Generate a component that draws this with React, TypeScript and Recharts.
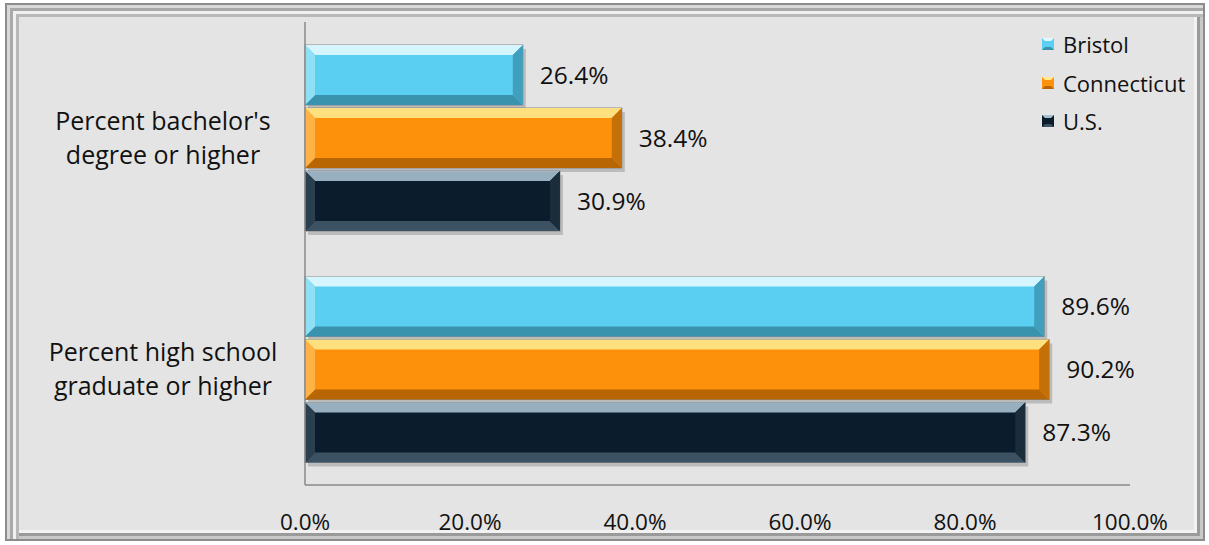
import React from 'react';
import { BarChart, Bar, XAxis, YAxis, LabelList } from 'recharts';

const categories = ["Percent bachelor's degree or higher", 'Percent high school graduate or higher'];
const categoryLines = [
    ["Percent bachelor's", 'degree or higher'],
    ['Percent high school', 'graduate or higher'],
];
const bristol = [26.4, 89.6];
const connecticut = [38.4, 90.2];
const us = [30.9, 87.3];
const xTicks = [0, 20, 40, 60, 80, 100];

const seriesInfo = [
    { key: 'bristol', name: 'Bristol', base: '#5bcff1', top: '#e2f9ff', bottom: '#3a93ad', left: '#8fe0f4', right: '#3f9fbd' },
    { key: 'connecticut', name: 'Connecticut', base: '#fd910b', top: '#ffe98c', bottom: '#b86604', left: '#ffb347', right: '#c47009' },
    { key: 'us', name: 'U.S.', base: '#0b1d2d', top: '#a7c0d0', bottom: '#3c5262', left: '#2a3f50', right: '#1b2c3a' },
];

const data = categories.map((c, i) => ({
    name: c,
    lines: categoryLines[i],
    bristol: bristol[i],
    connecticut: connecticut[i],
    us: us[i],
}));

const FONT = '"Open Sans", "Noto Sans", sans-serif';

function makeShape(s: any) {
    return (props: any) => {
        const { x, y, width, height } = props;
        if (!width || width <= 0) return null;
        const b = Math.min(10, height / 4);
        return (
            <g>
                <rect x={x + 3} y={y + 4} width={width} height={height} fill="#000" opacity={0.18} />
                <rect x={x} y={y} width={width} height={height} fill={s.base} stroke="#8a8a8a" strokeWidth={1} />
                <polygon points={`${x},${y} ${x + width},${y} ${x + width - b},${y + b} ${x + b},${y + b}`} fill={s.top} opacity={0.9} />
                <polygon points={`${x},${y + height} ${x + width},${y + height} ${x + width - b},${y + height - b} ${x + b},${y + height - b}`} fill={s.bottom} />
                <polygon points={`${x},${y} ${x + b},${y + b} ${x + b},${y + height - b} ${x},${y + height}`} fill={s.left} />
                <polygon points={`${x + width},${y} ${x + width - b},${y + b} ${x + width - b},${y + height - b} ${x + width},${y + height}`} fill={s.right} />
            </g>
        );
    };
}

const YTick = (props: any) => {
    const { y, payload } = props;
    const row = data.find(d => d.name === payload.value);
    const lines = row ? row.lines : [payload.value];
    return (
        <g>
            {lines.map((l: string, i: number) => (
                <text key={i} x={163} y={y + (i === 0 ? -17 : 17)} dy="0.35em" textAnchor="middle"
                    fontFamily={FONT} fontSize={25} fill="#111">{l}</text>
            ))}
        </g>
    );
};

const XTick = (props: any) => {
    const { x, payload } = props;
    return (
        <text x={x} y={530} textAnchor="middle" fontFamily={FONT} fontSize={22.5} fill="#111">
            {payload.value.toFixed(1) + '%'}
        </text>
    );
};

const LegendBox = () => (
    <div style={{ position: 'absolute', left: 1042, top: 25, fontFamily: FONT, fontSize: 22, color: '#111' }}>
        {seriesInfo.map(s => (
            <div key={s.key} style={{ display: 'flex', alignItems: 'center', height: 38.5 }}>
                <svg width={12} height={12} style={{ marginRight: 9 }}>
                    <rect x={0} y={0} width={12} height={12} fill={s.base} />
                    <polygon points="0,0 12,0 9,3 3,3" fill={s.top} />
                    <polygon points="0,12 12,12 9,9 3,9" fill={s.bottom} />
                </svg>
                <span>{s.name}</span>
            </div>
        ))}
    </div>
);

export default function App() {
    return (
        <div style={{ position: 'fixed', left: 0, top: 0, width: 1209, height: 545, background: '#fff' }}>
            <div style={{
                position: 'absolute', left: 5, top: 3, width: 1200, height: 538, boxSizing: 'border-box',
                background: '#e4e4e4',
                border: '2px solid #8c8c8c',
                boxShadow: 'inset 3px 3px 0 #d9d9d9, inset 6px 6px 0 #a9a9a9, inset 9px 9px 0 #f0f0f0, inset 12px 12px 0 #b8b8b8, inset -3px -3px 0 #c8c8c8, inset -6px -6px 0 #9a9a9a, inset -9px -9px 0 #f2f2f2',
            }} />
            <div style={{ position: 'absolute', left: 0, top: 0 }}>
                <BarChart
                    width={1209}
                    height={545}
                    data={data}
                    layout="vertical"
                    margin={{ top: 22, right: 79, bottom: 20, left: 0 }}
                    barCategoryGap={23}
                    barGap={3}
                >
                    <XAxis type="number" domain={[0, 100]} ticks={xTicks} tickLine={false}
                        axisLine={{ stroke: '#8a8a8a', strokeWidth: 1.5 }} tick={<XTick />} height={40} interval={0} />
                    <YAxis type="category" dataKey="name" width={305} tickLine={false}
                        axisLine={{ stroke: '#8a8a8a', strokeWidth: 1.5 }} tick={<YTick />} interval={0} />
                    {seriesInfo.map(s => (
                        <Bar key={s.key} dataKey={s.key} name={s.name} fill={s.base} shape={makeShape(s)} isAnimationActive={false}>
                            <LabelList dataKey={s.key} position="right" offset={17}
                                formatter={(v: any) => Number(v).toFixed(1) + '%'}
                                style={{ fontFamily: FONT, fontSize: 24.5, fill: '#111' }} />
                        </Bar>
                    ))}
                </BarChart>
            </div>
            <LegendBox />
        </div>
    );
}
